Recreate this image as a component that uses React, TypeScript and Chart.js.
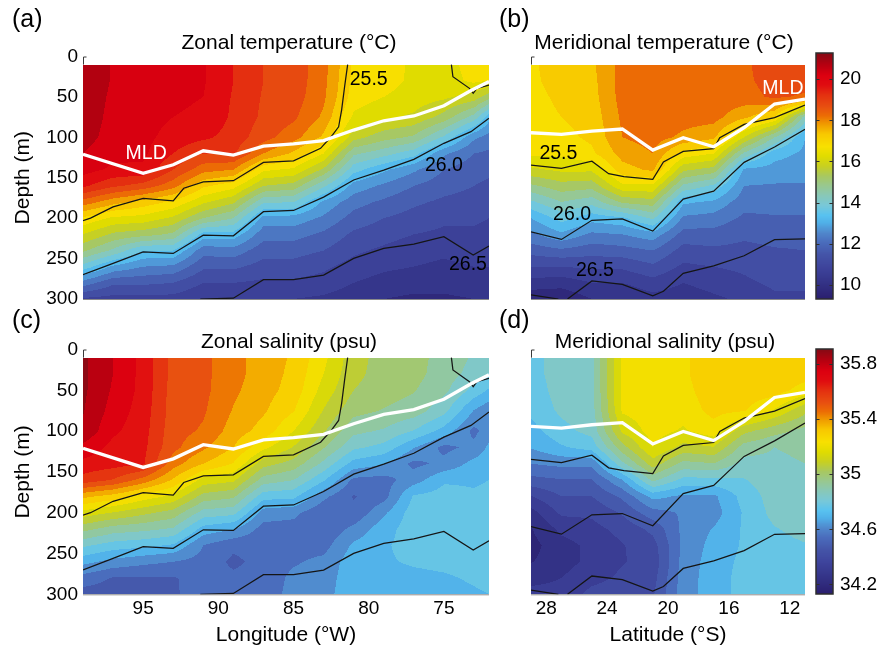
import React, { useEffect, useRef } from 'react';
import { Chart, registerables } from 'chart.js';

Chart.register(...registerables);

const FONT = "'Liberation Sans', Arial, Helvetica, sans-serif";

// ---------------- data ----------------
const DEPTHS = [10, 30, 50, 75, 100, 120, 140, 160, 180, 200, 220, 240, 260, 280, 300];
const LONGITUDES = [99, 97, 95, 93, 91, 89, 87, 85, 83, 81, 79, 77, 75, 73, 72];
const LATITUDES = [29, 27, 25, 23, 21, 19, 17, 15, 13, 11];

const DEPTH_TICKS = [0, 50, 100, 150, 200, 250, 300];
const LON_TICKS = [95, 90, 85, 80, 75];
const LAT_TICKS = [28, 24, 20, 16, 12];
const TEMP_TICKS = [10, 12, 14, 16, 18, 20];
const SAL_TICKS = [34.2, 34.6, 35, 35.4, 35.8];
const TEMP_LIMITS = [9.32, 21.27];
const SAL_LIMITS = [34.13, 35.91];

// temperature profiles (°C), one per longitude, at DEPTHS
const ZONAL_TEMP = [
  [20.9, 20.9, 20.85, 20.8, 20.7, 20.5, 20.2, 19.6, 18.3, 16.9, 16.0, 15.1, 13.8, 12.3, 10.9],
  [20.45, 20.45, 20.4, 20.35, 20.3, 20.15, 19.9, 19.1, 17.7, 16.4, 15.4, 14.4, 12.9, 11.6, 10.8],
  [20.2, 20.2, 20.2, 20.2, 20.15, 20.1, 19.9, 18.8, 17.3, 16.3, 15.2, 13.5, 12.5, 11.6, 10.8],
  [20.1, 20.1, 20.05, 20.0, 19.8, 19.5, 19.0, 18.2, 16.9, 15.9, 14.9, 13.5, 12.4, 11.5, 10.8],
  [20.05, 20.05, 20.0, 19.95, 19.6, 19.0, 18.2, 17.1, 16.1, 15.0, 13.3, 12.2, 11.6, 11.0, 10.5],
  [19.5, 19.5, 19.45, 19.4, 19.3, 19.1, 18.0, 16.7, 15.6, 14.5, 13.3, 12.3, 11.6, 11.0, 10.5],
  [19.0, 19.0, 18.95, 18.9, 18.7, 18.0, 16.6, 15.5, 14.1, 12.8, 12.2, 11.7, 11.3, 10.9, 10.5],
  [18.8, 18.8, 18.75, 18.6, 18.2, 17.4, 16.4, 15.3, 14.0, 12.8, 12.2, 11.7, 11.3, 10.9, 10.5],
  [18.2, 18.15, 18.1, 17.9, 17.4, 16.5, 15.4, 14.1, 12.9, 12.4, 11.9, 11.5, 11.1, 10.8, 10.4],
  [16.9, 16.85, 16.75, 16.4, 15.7, 14.6, 13.7, 12.8, 12.2, 11.8, 11.4, 11.1, 10.8, 10.5, 10.2],
  [16.75, 16.7, 16.5, 16.1, 15.2, 14.2, 13.1, 12.4, 11.9, 11.5, 11.2, 10.9, 10.6, 10.3, 10.0],
  [16.4, 16.4, 16.3, 15.9, 14.9, 13.7, 12.6, 12.0, 11.6, 11.3, 11.0, 10.7, 10.5, 10.2, 9.9],
  [16.3, 16.3, 16.1, 15.3, 13.9, 12.6, 12.0, 11.7, 11.4, 11.1, 10.9, 10.6, 10.4, 10.2, 9.9],
  [16.7, 16.6, 15.8, 14.3, 12.6, 12.0, 11.7, 11.5, 11.3, 11.1, 10.9, 10.7, 10.5, 10.3, 10.0],
  [16.8, 16.5, 15.2, 13.2, 12.3, 11.9, 11.6, 11.4, 11.2, 11.0, 10.8, 10.6, 10.5, 10.3, 10.0],
];

// temperature profiles (°C), one per latitude
const MERID_TEMP = [
  [16.9, 16.9, 16.85, 16.8, 16.7, 16.6, 15.9, 14.9, 13.9, 13.0, 12.4, 11.7, 11.0, 10.3, 9.6],
  [17.3, 17.2, 17.1, 17.0, 16.85, 16.6, 16.1, 15.3, 14.5, 13.7, 12.9, 11.9, 11.0, 10.2, 9.6],
  [17.4, 17.35, 17.3, 17.2, 17.1, 16.9, 16.1, 15.2, 14.2, 13.2, 12.4, 11.7, 11.1, 10.5, 10.0],
  [18.2, 18.2, 18.2, 18.1, 18.0, 17.7, 17.3, 16.4, 15.1, 13.4, 12.5, 11.8, 11.1, 10.5, 10.0],
  [18.3, 18.3, 18.3, 18.25, 18.2, 18.0, 17.6, 16.4, 15.3, 14.1, 12.8, 12.0, 11.4, 10.8, 10.3],
  [18.3, 18.3, 18.3, 18.2, 17.9, 16.8, 15.6, 14.4, 13.1, 12.4, 11.8, 11.3, 10.9, 10.5, 10.2],
  [18.3, 18.3, 18.3, 18.2, 17.6, 16.5, 15.3, 13.9, 12.9, 12.3, 11.8, 11.4, 11.0, 10.7, 10.4],
  [18.4, 18.4, 18.3, 17.6, 16.0, 14.4, 12.9, 12.5, 12.2, 11.9, 11.6, 11.35, 11.1, 10.9, 10.6],
  [18.8, 18.7, 18.6, 17.0, 14.5, 13.2, 12.8, 12.45, 12.2, 11.95, 11.7, 11.45, 11.3, 11.1, 10.9],
  [18.8, 18.8, 18.4, 14.3, 13.0, 12.9, 12.7, 12.45, 12.2, 11.95, 11.7, 11.5, 11.3, 11.1, 10.9],
];

// salinity profiles (psu), one per longitude
const ZONAL_SAL = [
  [35.87, 35.87, 35.87, 35.86, 35.84, 35.76, 35.68, 35.6, 35.35, 35.15, 34.98, 34.82, 34.68, 34.55, 34.47],
  [35.78, 35.78, 35.77, 35.75, 35.72, 35.68, 35.66, 35.55, 35.3, 35.1, 34.92, 34.77, 34.63, 34.5, 34.46],
  [35.68, 35.68, 35.68, 35.67, 35.66, 35.65, 35.64, 35.45, 35.22, 35.05, 34.9, 34.75, 34.6, 34.5, 34.48],
  [35.53, 35.53, 35.52, 35.52, 35.51, 35.5, 35.44, 35.32, 35.16, 35.0, 34.87, 34.72, 34.58, 34.5, 34.49],
  [35.5, 35.5, 35.5, 35.49, 35.47, 35.42, 35.33, 35.15, 35.0, 34.85, 34.7, 34.58, 34.55, 34.53, 34.56],
  [35.43, 35.43, 35.42, 35.4, 35.37, 35.33, 35.25, 35.12, 34.97, 34.83, 34.66, 34.52, 34.49, 34.52, 34.55],
  [35.37, 35.37, 35.36, 35.34, 35.3, 35.2, 35.06, 34.92, 34.76, 34.62, 34.55, 34.53, 34.53, 34.53, 34.55],
  [35.32, 35.31, 35.3, 35.26, 35.18, 35.1, 35.0, 34.88, 34.75, 34.6, 34.55, 34.55, 34.57, 34.6, 34.6],
  [35.2, 35.18, 35.15, 35.1, 35.04, 34.96, 34.86, 34.74, 34.6, 34.52, 34.52, 34.55, 34.6, 34.62, 34.63],
  [35.06, 35.05, 35.03, 34.98, 34.9, 34.82, 34.7, 34.56, 34.5, 34.52, 34.6, 34.67, 34.7, 34.7, 34.7],
  [35.0, 35.0, 34.99, 34.95, 34.87, 34.78, 34.66, 34.55, 34.55, 34.64, 34.7, 34.72, 34.72, 34.7, 34.7],
  [34.98, 34.98, 34.96, 34.92, 34.8, 34.66, 34.56, 34.62, 34.74, 34.77, 34.77, 34.76, 34.74, 34.71, 34.7],
  [34.93, 34.92, 34.9, 34.83, 34.7, 34.56, 34.6, 34.72, 34.76, 34.77, 34.77, 34.76, 34.75, 34.72, 34.7],
  [34.87, 34.85, 34.78, 34.65, 34.56, 34.6, 34.68, 34.72, 34.74, 34.76, 34.77, 34.77, 34.76, 34.74, 34.72],
  [34.84, 34.8, 34.72, 34.6, 34.62, 34.67, 34.7, 34.73, 34.75, 34.77, 34.77, 34.77, 34.76, 34.75, 34.73],
];

// salinity profiles (psu), one per latitude
const MERID_SAL = [
  [34.77, 34.77, 34.76, 34.75, 34.7, 34.66, 34.58, 34.48, 34.35, 34.25, 34.2, 34.18, 34.2, 34.26, 34.3],
  [34.85, 34.85, 34.84, 34.82, 34.78, 34.72, 34.6, 34.5, 34.43, 34.37, 34.3, 34.25, 34.25, 34.28, 34.3],
  [34.86, 34.86, 34.86, 34.85, 34.83, 34.76, 34.6, 34.5, 34.43, 34.37, 34.33, 34.3, 34.3, 34.33, 34.38],
  [35.2, 35.2, 35.2, 35.19, 35.12, 35.0, 34.86, 34.65, 34.52, 34.44, 34.38, 34.35, 34.35, 34.37, 34.4],
  [35.22, 35.22, 35.22, 35.22, 35.21, 35.18, 35.07, 34.9, 34.68, 34.55, 34.45, 34.4, 34.38, 34.4, 34.42],
  [35.24, 35.24, 35.23, 35.21, 35.17, 35.08, 34.93, 34.78, 34.64, 34.59, 34.6, 34.6, 34.61, 34.62, 34.62],
  [35.31, 35.31, 35.3, 35.28, 35.22, 35.1, 34.95, 34.78, 34.64, 34.62, 34.66, 34.68, 34.69, 34.69, 34.69],
  [35.31, 35.31, 35.3, 35.26, 35.05, 34.92, 34.85, 34.8, 34.76, 34.74, 34.74, 34.74, 34.75, 34.76, 34.76],
  [35.31, 35.31, 35.29, 35.17, 34.98, 34.88, 34.86, 34.85, 34.84, 34.83, 34.8, 34.78, 34.78, 34.78, 34.78],
  [35.3, 35.29, 35.22, 35.05, 34.93, 34.9, 34.88, 34.87, 34.86, 34.85, 34.83, 34.8, 34.79, 34.78, 34.78],
];

// mixed layer depth and density contours: [longitude or latitude, depth]
const ZONAL_MLD = [[99, 121], [95, 144.5], [93, 134], [91, 116.6], [89, 121.9], [87, 110.8], [85, 108], [83, 104], [81, 91], [79, 79.5], [77, 73.6], [75, 61], [73.2, 42], [72, 31]];
const ZONAL_SIG255 = [[99, 203], [98.5, 200], [97, 186], [95, 175.5], [93, 178.5], [92.3, 163], [91, 155], [89, 153.6], [87, 131], [85, 129], [83.2, 113.6], [82.5, 99.3], [82, 87], [81.8, 66], [81.6, 37], [81.4, 10]];
const ZONAL_SIG255_NE = [[74.5, 10], [74.4, 25], [73.3, 39.4], [73.05, 45.5], [72.8, 39.4], [72, 35.3]];
const ZONAL_SIG260 = [[99, 270], [97, 256], [95, 241.6], [93, 243.6], [91, 221], [89, 221.8], [87, 192], [85, 190.5], [83, 174], [81, 152.8], [79, 140.5], [77, 127.2], [75, 107.4], [73.2, 93], [72, 76.5]];
const ZONAL_SIG265 = [[91.2, 300], [89, 299], [87, 276], [85, 276], [83, 270.4], [81, 249.8], [79, 237.5], [77, 232.2], [75, 223], [73.05, 245.7], [72, 234.5]];

const MERID_MLD = [[29, 94.3], [27, 96.3], [25, 92.2], [23, 89.7], [21, 115.7], [19, 100.5], [17, 111.6], [15, 88.1], [13, 58.8], [11, 52.6]];
const MERID_SIG255 = [[29, 134.5], [27, 138.5], [25, 129.5], [23.9, 145], [22.9, 148.5], [21, 152], [20.3, 130.5], [19, 117.5], [17, 114], [16.6, 100.5], [15, 84], [13, 75.5], [11, 60]];
const MERID_SIG260 = [[29, 217], [27, 226.3], [25, 202.6], [23, 201], [21, 216], [19, 176.5], [17, 166.5], [15, 131], [13, 112], [11, 90]];
const MERID_SIG265_S = [[29, 295], [27.2, 300]];
const MERID_SIG265_N = [[26.6, 300], [25, 277.6], [23, 282], [21, 296], [20.3, 290.5], [19, 268.3], [17, 259], [15, 246.5], [13, 226.5], [11, 225.5]];

const ZONAL_LABELS = [
  { x: 80.0, y: 28, text: '25.5', color: '#000' },
  { x: 75.0, y: 135, text: '26.0', color: '#000' },
  { x: 73.4, y: 258, text: '26.5', color: '#000' },
  { x: 94.8, y: 120, text: 'MLD', color: '#fff' },
];
const MERID_LABELS = [
  { x: 27.2, y: 120, text: '25.5', color: '#000' },
  { x: 26.3, y: 196, text: '26.0', color: '#000' },
  { x: 24.8, y: 265, text: '26.5', color: '#000' },
  { x: 12.45, y: 40, text: 'MLD', color: '#fff' },
];

// ---------------- colormap ----------------
const CMAP_STOPS: [number, string][] = [
  [0.0, '#2a1e6e'], [0.07, '#343488'], [0.13, '#3e449c'], [0.18, '#4454a8'], [0.23, '#4a6cbc'],
  [0.27, '#5088cc'], [0.31, '#50b0e8'], [0.34, '#58c2f0'], [0.38, '#78c8d8'], [0.42, '#88c8b8'],
  [0.46, '#98c890'], [0.5, '#a8c860'], [0.54, '#c8d020'], [0.58, '#e0dc00'], [0.62, '#f8e000'],
  [0.67, '#f8c800'], [0.71, '#f09c00'], [0.745, '#ec6c04'], [0.78, '#e85010'], [0.83, '#e43010'],
  [0.87, '#e00c10'], [0.91, '#dc0010'], [0.95, '#b80010'], [1.0, '#840a14'],
];
const hexRgb = (h: string) => [parseInt(h.slice(1, 3), 16), parseInt(h.slice(3, 5), 16), parseInt(h.slice(5, 7), 16)];
const LUT_N = 1024;
const LUT = (() => {
  const out = new Uint8ClampedArray(LUT_N * 3);
  const stops = CMAP_STOPS.map(([t, h]) => [t, hexRgb(h)] as [number, number[]]);
  for (let i = 0; i < LUT_N; i++) {
    const t = i / (LUT_N - 1);
    let k = 0;
    while (k < stops.length - 2 && t > stops[k + 1][0]) k++;
    const [t0, c0] = stops[k];
    const [t1, c1] = stops[k + 1];
    const f = Math.max(0, Math.min(1, (t - t0) / (t1 - t0)));
    for (let c = 0; c < 3; c++) out[i * 3 + c] = Math.round(c0[c] + (c1[c] - c0[c]) * f);
  }
  return out;
})();
function colorAt(t: number): [number, number, number] {
  const i = Math.max(0, Math.min(LUT_N - 1, Math.round(t * (LUT_N - 1))));
  return [LUT[i * 3], LUT[i * 3 + 1], LUT[i * 3 + 2]];
}

function locate(arr: number[], v: number): [number, number] {
  const n = arr.length;
  for (let j = 0; j < n - 1; j++) {
    const a = arr[j];
    const b = arr[j + 1];
    if ((v - a) * (v - b) <= 0) return [j, (v - a) / (b - a)];
  }
  return Math.abs(v - arr[0]) < Math.abs(v - arr[n - 1]) ? [0, 0] : [n - 2, 1];
}

// ---------------- plugins ----------------
function fieldPlugin(cols: number[], field: number[][], limits: number[], base: number, step: number) {
  return {
    id: 'contourField',
    beforeDatasetsDraw(chart: any) {
      const { ctx } = chart;
      const xs = chart.scales.x;
      const ys = chart.scales.y;
      const xa = xs.getPixelForValue(cols[0]);
      const xb = xs.getPixelForValue(cols[cols.length - 1]);
      const ya = ys.getPixelForValue(DEPTHS[0]);
      const yb = ys.getPixelForValue(DEPTHS[DEPTHS.length - 1]);
      const left = Math.round(Math.min(xa, xb));
      const right = Math.round(Math.max(xa, xb));
      const top = Math.round(Math.min(ya, yb));
      const bottom = Math.round(Math.max(ya, yb));
      const w = right - left;
      const h = bottom - top;
      if (w <= 0 || h <= 0) return;
      const off = document.createElement('canvas');
      off.width = w;
      off.height = h;
      const octx = off.getContext('2d')!;
      const img = octx.createImageData(w, h);
      const colIdx: [number, number][] = [];
      const rowIdx: [number, number][] = [];
      for (let i = 0; i < w; i++) colIdx.push(locate(cols, xs.getValueForPixel(left + i + 0.5)));
      for (let k = 0; k < h; k++) rowIdx.push(locate(DEPTHS, ys.getValueForPixel(top + k + 0.5)));
      const [lo, hi] = limits;
      for (let k = 0; k < h; k++) {
        const [r, fy] = rowIdx[k];
        for (let i = 0; i < w; i++) {
          const [j, fx] = colIdx[i];
          const v00 = field[j][r];
          const v10 = field[j + 1][r];
          const v01 = field[j][r + 1];
          const v11 = field[j + 1][r + 1];
          const v = (v00 * (1 - fx) + v10 * fx) * (1 - fy) + (v01 * (1 - fx) + v11 * fx) * fy;
          const band = Math.floor((v - base) / step);
          const center = base + (band + 0.5) * step;
          const c = colorAt((center - lo) / (hi - lo));
          const p = (k * w + i) * 4;
          img.data[p] = c[0];
          img.data[p + 1] = c[1];
          img.data[p + 2] = c[2];
          img.data[p + 3] = 255;
        }
      }
      octx.putImageData(img, 0, 0);
      ctx.drawImage(off, left, top);
    },
  };
}

function decorPlugin(p: any) {
  return {
    id: 'panelDecor',
    beforeDatasetsDraw(chart: any) {
      const { ctx, chartArea } = chart;
      const ys = chart.scales.y;
      const y0 = ys.getPixelForValue(0);
      const y1 = ys.getPixelForValue(DEPTHS[0]);
      ctx.save();
      ctx.strokeStyle = '#3a3a3a';
      ctx.lineWidth = 1;
      ctx.beginPath();
      ctx.moveTo(chartArea.left + 3.5, y0 + 0.5);
      ctx.lineTo(chartArea.left + 0.5, y0 + 0.5);
      ctx.lineTo(chartArea.left + 0.5, y1);
      ctx.stroke();
      ctx.strokeStyle = '#8a8a8a';
      ctx.beginPath();
      ctx.moveTo(chartArea.left, chartArea.bottom + 0.5);
      ctx.lineTo(chartArea.right, chartArea.bottom + 0.5);
      ctx.stroke();
      ctx.restore();
    },
    afterDatasetsDraw(chart: any) {
      const { ctx } = chart;
      const xs = chart.scales.x;
      const ys = chart.scales.y;
      ctx.save();
      ctx.font = `19.5px ${FONT}`;
      ctx.textAlign = 'center';
      ctx.textBaseline = 'middle';
      for (const l of p.labels) {
        ctx.fillStyle = l.color;
        ctx.fillText(l.text, xs.getPixelForValue(l.x), ys.getPixelForValue(l.y));
      }
      ctx.restore();
    },
    afterDraw(chart: any) {
      const { ctx, chartArea } = chart;
      ctx.save();
      ctx.fillStyle = '#000';
      ctx.font = `21px ${FONT}`;
      ctx.textAlign = 'center';
      ctx.textBaseline = 'alphabetic';
      ctx.fillText(p.title, (chartArea.left + chartArea.right) / 2 + p.titleDx, chartArea.top - p.titleGap);
      ctx.font = `25px ${FONT}`;
      ctx.textAlign = 'left';
      ctx.textBaseline = 'middle';
      ctx.fillText(p.letter, p.letterPos[0], p.letterPos[1]);
      ctx.restore();
    },
  };
}

function colorbarPlugin(limits: number[], ticks: number[]) {
  return {
    id: 'colorbar',
    beforeDatasetsDraw(chart: any) {
      const { ctx, chartArea } = chart;
      const ys = chart.scales.y;
      const [lo, hi] = limits;
      ctx.save();
      for (let y = Math.floor(chartArea.top); y < Math.ceil(chartArea.bottom); y++) {
        const v = ys.getValueForPixel(y + 0.5);
        const c = colorAt((v - lo) / (hi - lo));
        ctx.fillStyle = `rgb(${c[0]},${c[1]},${c[2]})`;
        ctx.fillRect(chartArea.left, y, chartArea.right - chartArea.left, 1);
      }
      ctx.strokeStyle = '#2e2e2e';
      ctx.lineWidth = 1.5;
      ctx.strokeRect(chartArea.left, chartArea.top, chartArea.right - chartArea.left, chartArea.bottom - chartArea.top);
      ctx.lineWidth = 1;
      for (const t of ticks) {
        const y = Math.round(ys.getPixelForValue(t)) + 0.5;
        ctx.beginPath();
        ctx.moveTo(chartArea.left, y);
        ctx.lineTo(chartArea.left + 3.5, y);
        ctx.moveTo(chartArea.right - 3.5, y);
        ctx.lineTo(chartArea.right, y);
        ctx.stroke();
      }
      ctx.restore();
    },
  };
}

// ---------------- configs ----------------
const tickFont = { family: FONT, size: 19 };
const titleFont = { family: FONT, size: 21 };
const fmt = (v: any) => String(v);

function lineSet(points: number[][], color: string, width: number) {
  return {
    data: points.map(([x, y]) => ({ x, y })),
    showLine: true,
    borderColor: color,
    backgroundColor: color,
    borderWidth: width,
    pointRadius: 0,
    pointHoverRadius: 0,
    tension: 0,
    fill: false,
  };
}

function panelConfig(p: any) {
  return {
    type: 'scatter',
    data: {
      datasets: [
        lineSet(p.mld, '#ffffff', 3.3),
        ...p.contours.map((c: number[][]) => lineSet(c, '#151515', 1.25)),
      ],
    },
    options: {
      animation: false,
      responsive: false,
      devicePixelRatio: 1,
      events: [],
      layout: { padding: p.padding },
      plugins: { legend: { display: false }, tooltip: { enabled: false }, title: { display: false } },
      scales: {
        x: {
          type: 'linear',
          position: 'bottom',
          min: p.xLimits[0],
          max: p.xLimits[1],
          reverse: true,
          afterBuildTicks: (s: any) => { s.ticks = p.xTicks.map((v: number) => ({ value: v })); },
          afterFit: (s: any) => { s.height = p.xHeight; },
          grid: { display: false, drawTicks: false },
          border: { display: false },
          ticks: { display: p.showX, font: tickFont, color: '#000', padding: 3, maxRotation: 0, autoSkip: false, callback: fmt },
          title: { display: p.showX, text: p.xTitle, font: titleFont, color: '#000', padding: { top: 0, bottom: 4 } },
        },
        y: {
          type: 'linear',
          position: 'left',
          min: 0,
          max: 300,
          reverse: true,
          afterBuildTicks: (s: any) => { s.ticks = DEPTH_TICKS.map((v) => ({ value: v })); },
          afterFit: (s: any) => { s.width = p.yWidth; },
          grid: { display: false, drawTicks: false },
          border: { display: false },
          ticks: { display: p.showY, font: tickFont, color: '#000', padding: 5, callback: fmt },
          title: { display: p.showY, text: 'Depth (m)', font: titleFont, color: '#000', padding: { top: 0, bottom: 0 } },
        },
      },
    },
    plugins: [fieldPlugin(p.cols, p.field, p.limits, p.base, p.step), decorPlugin(p)],
  };
}

function colorbarConfig(limits: number[], ticks: number[], padding: any) {
  return {
    type: 'scatter',
    data: { datasets: [] },
    options: {
      animation: false,
      responsive: false,
      devicePixelRatio: 1,
      events: [],
      layout: { padding },
      plugins: { legend: { display: false }, tooltip: { enabled: false } },
      scales: {
        x: { type: 'linear', display: false, min: 0, max: 1 },
        y: {
          type: 'linear',
          position: 'right',
          min: limits[0],
          max: limits[1],
          afterBuildTicks: (s: any) => { s.ticks = ticks.map((v) => ({ value: v })); },
          afterFit: (s: any) => { s.width = 47; },
          grid: { display: false, drawTicks: false },
          border: { display: false },
          ticks: { font: tickFont, color: '#000', padding: 7, callback: fmt },
        },
      },
    },
    plugins: [colorbarPlugin(limits, ticks)],
  };
}

const zonalLines = [ZONAL_SIG255, ZONAL_SIG255_NE, ZONAL_SIG260, ZONAL_SIG265];
const meridLines = [MERID_SIG255, MERID_SIG260, MERID_SIG265_S, MERID_SIG265_N];

const PANELS = [
  {
    cols: LONGITUDES, field: ZONAL_TEMP, limits: TEMP_LIMITS, base: 0, step: 0.5,
    xLimits: [72, 99], xTicks: LON_TICKS, showX: false, showY: true, xTitle: '',
    padding: { left: 10.5, right: 391, top: 56.5, bottom: 353 }, xHeight: 0, yWidth: 72.5,
    title: 'Zonal temperature (°C)', titleDx: 3, titleGap: 8, letter: '(a)', letterPos: [12, 20],
    mld: ZONAL_MLD, contours: zonalLines, labels: ZONAL_LABELS,
  },
  {
    cols: LATITUDES, field: MERID_TEMP, limits: TEMP_LIMITS, base: 0, step: 0.5,
    xLimits: [11, 29], xTicks: LAT_TICKS, showX: false, showY: false, xTitle: '',
    padding: { left: 531, right: 75, top: 56.5, bottom: 353 }, xHeight: 0, yWidth: 0,
    title: 'Meridional temperature (°C)', titleDx: -4, titleGap: 8, letter: '(b)', letterPos: [499, 20],
    mld: MERID_MLD, contours: meridLines, labels: MERID_LABELS,
  },
  {
    cols: LONGITUDES, field: ZONAL_SAL, limits: SAL_LIMITS, base: 34.13, step: 0.075,
    xLimits: [72, 99], xTicks: LON_TICKS, showX: true, showY: true, xTitle: 'Longitude (°W)',
    padding: { left: 10.5, right: 391, top: 349.5, bottom: 0 }, xHeight: 57.7, yWidth: 72.5,
    title: 'Zonal salinity (psu)', titleDx: 3, titleGap: 2, letter: '(c)', letterPos: [12, 321],
    mld: ZONAL_MLD, contours: zonalLines, labels: [],
  },
  {
    cols: LATITUDES, field: MERID_SAL, limits: SAL_LIMITS, base: 34.13, step: 0.075,
    xLimits: [11, 29], xTicks: LAT_TICKS, showX: true, showY: false, xTitle: 'Latitude (°S)',
    padding: { left: 531, right: 75, top: 349.5, bottom: 0 }, xHeight: 57.7, yWidth: 0,
    title: 'Meridional salinity (psu)', titleDx: -3, titleGap: 2, letter: '(d)', letterPos: [499, 321],
    mld: MERID_MLD, contours: meridLines, labels: [],
  },
];

export default function App() {
  const canvases = useRef<(HTMLCanvasElement | null)[]>([]);
  useEffect(() => {
    const configs: any[] = [
      ...PANELS.map(panelConfig),
      colorbarConfig(TEMP_LIMITS, TEMP_TICKS, { left: 816, right: 0, top: 53, bottom: 353 }),
      colorbarConfig(SAL_LIMITS, SAL_TICKS, { left: 816, right: 0, top: 349, bottom: 58 }),
    ];
    const charts = configs.map((cfg, i) => new Chart(canvases.current[i] as HTMLCanvasElement, cfg));
    return () => charts.forEach((c) => c.destroy());
  }, []);
  return (
    <div style={{ position: 'absolute', left: 0, top: 0, width: 880, height: 652, background: '#fff' }}>
      {[0, 1, 2, 3, 4, 5].map((i) => (
        <canvas
          key={i}
          ref={(el) => { canvases.current[i] = el; }}
          width={880}
          height={652}
          style={{ position: 'absolute', left: 0, top: 0 }}
        />
      ))}
    </div>
  );
}
